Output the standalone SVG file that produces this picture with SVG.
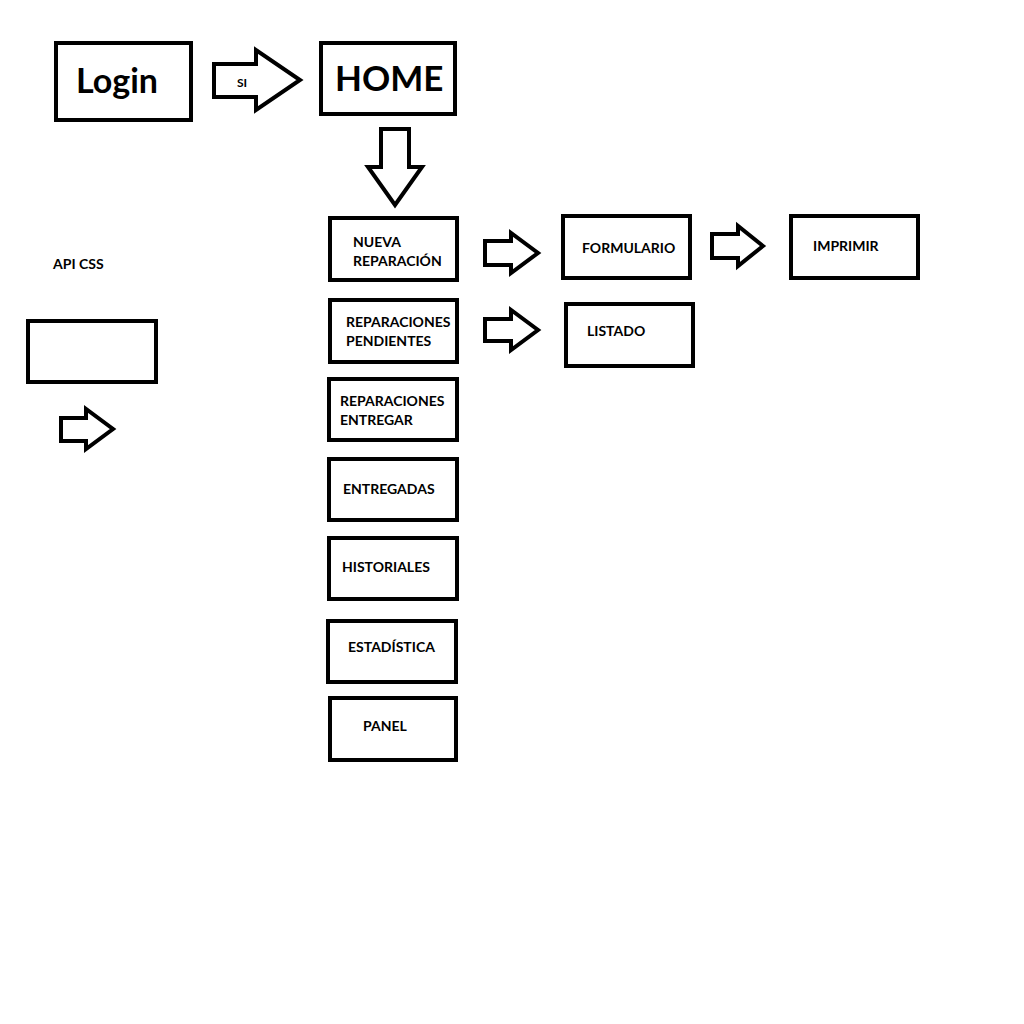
<svg xmlns="http://www.w3.org/2000/svg" width="1024" height="1024" viewBox="0 0 1024 1024">
<style>
.box{fill:#fff;stroke:#000;stroke-width:4}
.arr{fill:#fff;stroke:#000;stroke-width:4;stroke-linejoin:miter}
text{font-family:Lato,"Open Sans","Liberation Sans",sans-serif;font-weight:bold;fill:#000}
.t{font-size:14px}
</style>
<rect width="1024" height="1024" fill="#fff"/>
<g id="connectors">
<polygon class="arr" points="214,64 256,64 256,50 300,80 256,110 256,97 214,97"/>
<text x="237" y="87" font-size="12">SI</text>
<polygon class="arr" points="381,129 409,129 409,167 422,167 395,205 368,167 381,167"/>
<polygon class="arr" points="485,241 511,241 511,233 538,253 511,273 511,265 485,265"/>
<polygon class="arr" points="712,234 738,234 738,226 763,246 738,266 738,258 712,258"/>
<polygon class="arr" points="485,319 511,319 511,310 538,330 511,350 511,341 485,341"/>
<polygon class="arr" points="61,418 86,418 86,409 113,429 86,449 86,441 61,441"/>
</g>
<g id="login"><rect class="box" x="56" y="43" width="135" height="77"/><text x="76" y="93" font-size="34">Login</text></g>
<g id="home"><rect class="box" x="321" y="43" width="134" height="71"/><text x="335" y="91" font-size="35">HOME</text></g>
<g id="api"><text class="t" x="53" y="269">API CSS</text></g>
<g id="api-box"><rect class="box" x="28" y="321" width="128" height="61"/></g>
<g id="nueva"><rect class="box" x="330" y="218" width="127" height="62"/><text class="t" x="353" y="247">NUEVA</text><text class="t" x="353" y="266">REPARACIÓN</text></g>
<g id="formulario"><rect class="box" x="563" y="216" width="127" height="62"/><text class="t" x="582" y="253">FORMULARIO</text></g>
<g id="imprimir"><rect class="box" x="791" y="216" width="127" height="62"/><text class="t" x="813" y="251">IMPRIMIR</text></g>
<g id="pendientes"><rect class="box" x="330" y="300" width="127" height="62"/><text class="t" x="346" y="327">REPARACIONES</text><text class="t" x="346" y="346">PENDIENTES</text></g>
<g id="listado"><rect class="box" x="566" y="304" width="127" height="62"/><text class="t" x="587" y="336">LISTADO</text></g>
<g id="entregar"><rect class="box" x="329" y="379" width="128" height="61"/><text class="t" x="340" y="406">REPARACIONES</text><text class="t" x="340" y="425">ENTREGAR</text></g>
<g id="entregadas"><rect class="box" x="329" y="459" width="128" height="61"/><text class="t" x="343" y="494">ENTREGADAS</text></g>
<g id="historiales"><rect class="box" x="329" y="538" width="128" height="61"/><text class="t" x="342" y="572">HISTORIALES</text></g>
<g id="estadistica"><rect class="box" x="328" y="621" width="128" height="61"/><text class="t" x="348" y="652">ESTADÍSTICA</text></g>
<g id="panel"><rect class="box" x="330" y="698" width="126" height="62"/><text class="t" x="363" y="731">PANEL</text></g>
</svg>
